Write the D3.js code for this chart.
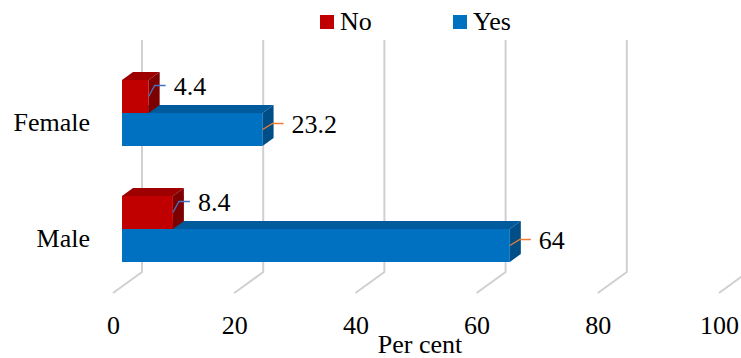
<!DOCTYPE html>
<html>
<head>
<meta charset="utf-8">
<script src="https://cdn.jsdelivr.net/npm/d3@7"></script>
<style>
  body { margin: 0; background: #fff; }
  svg { display: block; }
  svg text { font-family: 'Liberation Serif', 'Times New Roman', serif; }
</style>
</head>
<body>
<div name="chart"></div>
<script>
// --- Data

const categories = ['Female', 'Male'];
const seriesNames = ['No', 'Yes'];
const noValues = [4.4, 8.4];
const yesValues = [23.2, 64];
const xTicks = [0, 20, 40, 60, 80, 100];
const xTitle = 'Per cent';

// ---

const svgWidth = 741, svgHeight = 358;
const fontSize = 26;
const fontFamily = "'Liberation Serif', 'Times New Roman', serif";
const depth = { dx: 11, dy: -8 }; // bar depth
const floor = { dx: 29, dy: -21 }; // full floor depth

const colors = {
  No: { front: '#C00000', top: '#9E0000', side: '#7D0000', leader: '#4472C4', lead: [6, -11] },
  Yes: { front: '#0070C0', top: '#005A9C', side: '#004E88', leader: '#ED7D31', lead: [10, -6] },
};

const rows = categories.map((c, i) => ({
  category: c,
  values: [
    { key: 'No', value: noValues[i] },
    { key: 'Yes', value: yesValues[i] },
  ],
}));

const svg = d3.select('div[name=chart]').append('svg')
  .attr('width', svgWidth)
  .attr('height', svgHeight)
  .attr('font-family', fontFamily);

// front edge of floor, bars sit a little behind it
const x = d3.scaleLinear().domain([0, 100]).range([113, 719]);
const barOffset = 9;
const y0 = d3.scaleBand()
  .domain(categories)
  .range([55, 287])
  .paddingInner(0.431)
  .paddingOuter(0.2155);
const y1 = d3.scaleBand()
  .domain(seriesNames)
  .range([0, y0.bandwidth()]);

// --- Walls / floor gridlines

const wallTop = 40, wallBottom = 272;
const grid = svg.append('g')
  .attr('fill', 'none')
  .attr('stroke', '#D0D0D0')
  .attr('stroke-width', 2);

xTicks.forEach(t => {
  const bx = x(t) + floor.dx;
  grid.append('path')
    .attr('d', `M${bx},${wallTop}V${wallBottom}L${x(t)},${wallBottom - floor.dy}`);
});

// --- Bars (blue first so red sits over its top face)

const bars = svg.append('g');

['Yes', 'No'].forEach(key => {
  rows.forEach(r => {
    const d = r.values.find(v => v.key === key);
    const x0 = x(0) + barOffset;
    const x1 = x(d.value) + barOffset;
    const top = y0(r.category) + y1(key);
    const bottom = top + y1.bandwidth();
    const c = colors[key];

    // top face
    bars.append('path')
      .attr('d', `M${x0},${top}L${x0 + depth.dx},${top + depth.dy}L${x1 + depth.dx},${top + depth.dy}L${x1},${top}Z`)
      .attr('fill', c.top);
    // side face
    bars.append('path')
      .attr('d', `M${x1},${top}L${x1 + depth.dx},${top + depth.dy}L${x1 + depth.dx},${bottom + depth.dy}L${x1},${bottom}Z`)
      .attr('fill', c.side);
    // front face
    bars.append('rect')
      .attr('x', x0)
      .attr('y', top)
      .attr('width', x1 - x0)
      .attr('height', bottom - top)
      .attr('fill', c.front);

    // leader line + label
    const ly = (top + bottom) / 2;
    const [ldx, ldy] = c.lead;
    bars.append('path')
      .attr('d', `M${x1},${ly}L${x1 + ldx},${ly + ldy}H${x1 + ldx + 11}`)
      .attr('fill', 'none')
      .attr('stroke', c.leader)
      .attr('stroke-width', 1.3);
    bars.append('text')
      .attr('x', x1 + ldx + 19)
      .attr('y', ly + ldy)
      .attr('dy', '0.35em')
      .attr('font-size', fontSize)
      .attr('fill', '#000')
      .text(d.value);
  });
});

// --- Category labels

svg.append('g').selectAll('text')
  .data(categories)
  .enter()
  .append('text')
  .attr('x', 90)
  .attr('y', d => y0(d) + y0.bandwidth() / 2 + 9)
  .attr('dy', '0.35em')
  .attr('text-anchor', 'end')
  .attr('font-size', fontSize)
  .text(d => d);

// --- X axis

const xAxis = svg.append('g')
  .attr('transform', 'translate(0, 316)')
  .call(d3.axisBottom(x).tickValues(xTicks).tickSize(0).tickPadding(0))
  .attr('font-family', fontFamily)
  .attr('font-size', fontSize);
xAxis.select('.domain').remove();
xAxis.selectAll('text')
  .attr('fill', '#000');

svg.append('text')
  .attr('x', 420)
  .attr('y', 353)
  .attr('text-anchor', 'middle')
  .attr('font-size', fontSize)
  .text(xTitle);

// --- Legend

const legend = svg.append('g').selectAll('g')
  .data(seriesNames)
  .enter()
  .append('g')
  .attr('transform', (d, i) => `translate(${[320, 453][i]}, 15)`);
legend.append('rect')
  .attr('width', 14)
  .attr('height', 14)
  .attr('fill', d => colors[d].front);
legend.append('text')
  .attr('x', 20)
  .attr('y', 15)
  .attr('font-size', fontSize)
  .text(d => d);
</script>
</body>
</html>
